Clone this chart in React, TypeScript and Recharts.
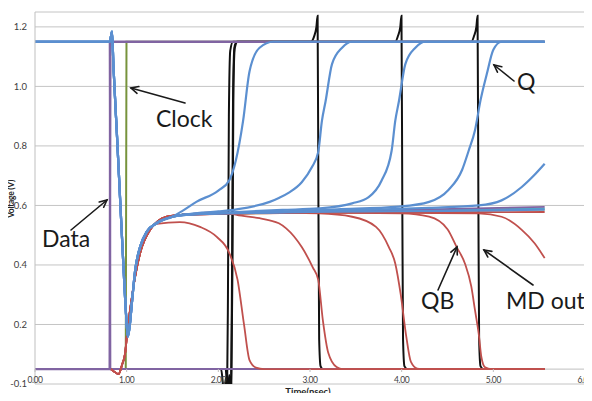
import React from "react"
import { ComposedChart, Line, XAxis, YAxis, CartesianGrid, ReferenceLine } from "recharts"

type Pt = [number, number]

// axis ticks
const xTicks = [0, 1, 2, 3, 4, 5, 6]
const yTicks = [0, 0.2, 0.4, 0.6, 0.8, 1.0, 1.2]

// inputs (time in nsec, voltage in V)
const dataWave: Pt[] = [[0, 1.15], [0.815, 1.15], [0.822, 0.05], [5.56, 0.05]]
const dataBarWave: Pt[] = [[0, 0.05], [0.815, 0.05], [0.822, 1.15], [5.56, 1.15]]
const clockWave: Pt[] = [[0, 0.05], [0.99, 0.05], [0.998, 1.15], [5.56, 1.15]]

// Q, common start of every run
const qHead: Pt[] = [
  [0, 1.15], [0.815, 1.15], [0.83, 1.17], [0.84, 1.184], [0.856, 1.066], [0.893, 0.843],
  [0.929, 0.618], [0.965, 0.394], [0.995, 0.226], [1.013, 0.159], [1.035, 0.2], [1.057, 0.272],
  [1.093, 0.383], [1.147, 0.461], [1.22, 0.512], [1.33, 0.541], [1.5, 0.562],
]
const q1Tail: Pt[] = [[1.6, 0.58], [1.76, 0.612], [2.0, 0.65], [2.12, 0.685], [2.19, 0.75], [2.27, 0.884], [2.34, 1.05], [2.45, 1.13], [2.6, 1.15], [5.56, 1.15]]
const q2Tail: Pt[] = [[1.7, 0.572], [2.0, 0.58], [2.2, 0.587], [2.56, 0.612], [2.66, 0.625], [2.77, 0.643], [2.91, 0.678], [3.02, 0.728], [3.09, 0.78], [3.13, 0.884], [3.17, 0.95], [3.24, 1.075], [3.35, 1.13], [3.46, 1.15], [5.56, 1.15]]
const q3Tail: Pt[] = [[1.7, 0.57], [2.2, 0.578], [2.7, 0.585], [3.1, 0.59], [3.46, 0.607], [3.64, 0.628], [3.78, 0.683], [3.89, 0.783], [3.93, 0.884], [3.97, 0.95], [4.04, 1.075], [4.15, 1.13], [4.26, 1.15], [5.56, 1.15]]
const q4Tail: Pt[] = [[1.7, 0.57], [2.5, 0.578], [3.3, 0.587], [3.97, 0.596], [4.3, 0.612], [4.51, 0.652], [4.66, 0.72], [4.73, 0.783], [4.8, 0.853], [4.86, 0.953], [4.93, 1.043], [5.0, 1.123], [5.09, 1.15], [5.56, 1.15]]
const q5Tail: Pt[] = [[1.7, 0.57], [2.6, 0.577], [3.6, 0.585], [4.3, 0.592], [4.84, 0.6], [5.09, 0.617], [5.31, 0.662], [5.45, 0.703], [5.56, 0.74]]
const q6Tail: Pt[] = [[1.7, 0.57], [3.0, 0.578], [4.5, 0.582], [5.56, 0.586]]

// QB, common start of every run
const qbHead: Pt[] = [
  [0, 0.05], [0.82, 0.05], [0.87, 0.04], [0.91, 0.033], [0.95, 0.065], [0.984, 0.105],
  [1.002, 0.159], [1.074, 0.327], [1.147, 0.44], [1.256, 0.518], [1.438, 0.562],
]
const qb1Tail: Pt[] = [[1.33, 0.538], [1.58, 0.544], [1.8, 0.528], [1.98, 0.495], [2.12, 0.44], [2.21, 0.35], [2.28, 0.2], [2.34, 0.08], [2.41, 0.055], [2.5, 0.05], [5.56, 0.05]]
const qb2Tail: Pt[] = [[1.6, 0.568], [2.05, 0.578], [2.2, 0.568], [2.45, 0.557], [2.56, 0.55], [2.66, 0.54], [2.74, 0.523], [2.91, 0.46], [3.03, 0.392], [3.09, 0.35], [3.14, 0.215], [3.2, 0.104], [3.29, 0.057], [3.36, 0.05], [5.56, 0.05]]
const qb3Tail: Pt[] = [[1.6, 0.568], [2.5, 0.576], [3.1, 0.573], [3.46, 0.562], [3.72, 0.528], [3.86, 0.46], [3.93, 0.405], [3.99, 0.3], [4.05, 0.16], [4.1, 0.075], [4.17, 0.052], [4.25, 0.05], [5.56, 0.05]]
const qb4Tail: Pt[] = [[1.6, 0.568], [3.0, 0.576], [4.0, 0.573], [4.3, 0.562], [4.5, 0.52], [4.6, 0.46], [4.69, 0.405], [4.76, 0.327], [4.8, 0.248], [4.84, 0.17], [4.87, 0.09], [4.91, 0.056], [4.98, 0.05], [5.56, 0.05]]
const qb5Tail: Pt[] = [[1.6, 0.568], [3.0, 0.577], [4.84, 0.573], [5.09, 0.562], [5.31, 0.518], [5.45, 0.473], [5.56, 0.423]]
const qb6Tail: Pt[] = [[1.6, 0.568], [3.0, 0.575], [5.56, 0.578]]

// other traces that sit on the metastable level
const metaPurple: Pt[] = [[1.6, 0.57], [3.5, 0.582], [5.56, 0.595]]
const metaTeal: Pt[] = [[1.6, 0.57], [3.5, 0.58], [5.56, 0.59]]
const metaGreen: Pt[] = [[1.6, 0.57], [3.5, 0.578], [5.56, 0.586]]

// MD out
const md1: Pt[] = [[0, 0.05], [2.03, 0.05], [2.05, 0.0], [2.065, -0.05], [2.08, 0.02], [2.095, -0.04], [2.105, 0.3], [2.115, 0.9], [2.13, 1.12], [2.16, 1.15], [3.01, 1.15], [3.045, 1.168], [3.07, 1.2], [3.083, 1.237], [3.092, 0.6], [3.1, 0.15], [3.115, 0.06], [3.14, 0.05], [5.56, 0.05]]
const md2: Pt[] = [[0, 0.05], [2.08, 0.05], [2.1, -0.03], [2.12, 0.03], [2.135, -0.05], [2.15, 0.4], [2.16, 0.95], [2.175, 1.13], [2.2, 1.15], [3.93, 1.15], [3.96, 1.17], [3.985, 1.2], [3.998, 1.237], [4.007, 0.6], [4.015, 0.15], [4.03, 0.06], [4.06, 0.05], [5.56, 0.05]]
const md3: Pt[] = [[0, 0.05], [2.09, 0.05], [2.11, -0.04], [2.125, 0.02], [2.14, -0.05], [2.155, 0.45], [2.165, 1.0], [2.18, 1.13], [2.21, 1.15], [4.76, 1.15], [4.79, 1.17], [4.815, 1.2], [4.828, 1.237], [4.837, 0.6], [4.845, 0.15], [4.86, 0.06], [4.89, 0.05], [5.56, 0.05]]

const BLUE = "#5b8fd0"
const RED = "#c0504d"
const PURPLE = "#8064a2"
const GREEN = "#77933c"
const TEAL = "#4bacc6"
const BLACK = "#111111"

const rows = (pts: Pt[]) => pts.map(([t, v]) => ({ t, v }))

// drawing order: first is at the bottom
const series = [
  { id: "md1", pts: md1, color: BLACK, w: 2, curve: "monotone" },
  { id: "md2", pts: md2, color: BLACK, w: 2, curve: "monotone" },
  { id: "md3", pts: md3, color: BLACK, w: 2, curve: "monotone" },
  { id: "clock", pts: clockWave, color: GREEN, w: 2, curve: "linear" },
  { id: "data", pts: dataWave, color: PURPLE, w: 2, curve: "linear" },
  { id: "mg", pts: metaGreen, color: "#9bbb59", w: 1.8, curve: "monotone" },
  { id: "mt", pts: metaTeal, color: TEAL, w: 1.8, curve: "monotone" },
  { id: "mp", pts: metaPurple, color: PURPLE, w: 1.8, curve: "monotone" },
  { id: "qb6", pts: [...qbHead, ...qb6Tail], color: RED, w: 1.8, curve: "monotone" },
  { id: "qb5", pts: [...qbHead, ...qb5Tail], color: RED, w: 1.8, curve: "monotone" },
  { id: "qb4", pts: [...qbHead, ...qb4Tail], color: RED, w: 1.8, curve: "monotone" },
  { id: "qb3", pts: [...qbHead, ...qb3Tail], color: RED, w: 1.8, curve: "monotone" },
  { id: "qb2", pts: [...qbHead, ...qb2Tail], color: RED, w: 1.8, curve: "monotone" },
  { id: "qb1", pts: [...qbHead.slice(0, -1), ...qb1Tail], color: RED, w: 1.8, curve: "monotone" },
  { id: "dataB", pts: dataBarWave, color: PURPLE, w: 2.4, curve: "linear" },
  { id: "q6", pts: [...qHead, ...q6Tail], color: BLUE, w: 2.2, curve: "monotone" },
  { id: "q5", pts: [...qHead, ...q5Tail], color: BLUE, w: 2.2, curve: "monotone" },
  { id: "q4", pts: [...qHead, ...q4Tail], color: BLUE, w: 2.2, curve: "monotone" },
  { id: "q3", pts: [...qHead, ...q3Tail], color: BLUE, w: 2.2, curve: "monotone" },
  { id: "q2", pts: [...qHead, ...q2Tail], color: BLUE, w: 2.2, curve: "monotone" },
  { id: "q1", pts: [...qHead, ...q1Tail], color: BLUE, w: 2.2, curve: "monotone" },
]

const FONT = "Lato, 'Liberation Sans', sans-serif"
const AXIS_Y = 369 // pixel row of the 0.05 V crossing line

function TimeTick(props: any) {
  const { x, payload } = props
  return (
    <g>
      <line x1={x} x2={x} y1={AXIS_Y} y2={AXIS_Y + 3} stroke="#bfbfbf" />
      <text x={x} y={383} textAnchor="middle" fontSize={8.5} letterSpacing={-0.4}
        fill="#404040" fontFamily={FONT}>
        {Number(payload.value).toFixed(2)}
      </text>
    </g>
  )
}

function Arrow({ x1, y1, x2, y2 }: { x1: number, y1: number, x2: number, y2: number }) {
  const a = Math.atan2(y2 - y1, x2 - x1)
  const len = 8
  const w1 = [x2 - len * Math.cos(a - 0.45), y2 - len * Math.sin(a - 0.45)]
  const w2 = [x2 - len * Math.cos(a + 0.45), y2 - len * Math.sin(a + 0.45)]
  return (
    <g stroke="#1a1a1a" strokeWidth={1.6} fill="none" strokeLinecap="round">
      <line x1={x1} y1={y1} x2={x2} y2={y2} />
      <polyline points={`${w1[0]},${w1[1]} ${x2},${y2} ${w2[0]},${w2[1]}`} />
    </g>
  )
}

export default function App() {
  return (
    <div style={{ margin: -8, width: 592, height: 401, position: "relative", background: "#fff", overflow: "hidden" }}>
      <div style={{ position: "absolute", left: 5, top: 0, width: 0, height: 399, borderLeft: "1px solid #d9d9d9" }} />
      <div style={{ position: "absolute", left: 5, top: 399, width: 587, height: 0, borderTop: "1px solid #d9d9d9" }} />
      <ComposedChart width={592} height={401} margin={{ top: 12, right: 7, bottom: 0, left: 0 }}
        style={{ position: "absolute", left: 0, top: 0, overflow: "visible" }}>
        <CartesianGrid vertical={false} stroke="#c4c4c4" />
        <XAxis type="number" dataKey="t" domain={[0, 6]} ticks={xTicks} interval={0}
          allowDataOverflow height={17} axisLine={false} tickLine={false} tick={<TimeTick />} />
        <YAxis type="number" domain={[0, 1.25]} ticks={yTicks} allowDataOverflow width={35}
          axisLine={{ stroke: "#bfbfbf" }} tickLine={false} tickSize={0} tickMargin={8}
          tick={{ fill: "#404040", fontSize: 9.5, fontFamily: FONT }}
          tickFormatter={(v: number) => (v === 0 ? "-0.1" : v.toFixed(1))} />
        <ReferenceLine segment={[{ x: 0, y: 0.05 }, { x: 6, y: 0.05 }]} stroke="#bfbfbf" />
        {series.map((s) => (
          <Line key={s.id} data={rows(s.pts)} dataKey="v" type={s.curve as any}
            stroke={s.color} strokeWidth={s.w} dot={false} activeDot={false}
            isAnimationActive={false} />
        ))}
      </ComposedChart>
      <svg width={592} height={401} style={{ position: "absolute", left: 0, top: 0, pointerEvents: "none" }}>
        <text x={308} y={395} textAnchor="middle" fontSize={9.5} fontWeight={700} fill="#262626"
          fontFamily={FONT}>Time(nsec)</text>
        <text transform="translate(14,199) rotate(-90)" textAnchor="middle" fontSize={8.5}
          fontWeight={700} fill="#262626" fontFamily={FONT} letterSpacing={-0.3}>Voltage (V)</text>
        <g fontFamily={FONT} fontSize={23} fill="#1a1a1a">
          <text x={156} y={127}>Clock</text>
          <text x={42} y={247}>Data</text>
          <text x={517} y={90}>Q</text>
          <text x={421} y={309}>QB</text>
          <text x={506} y={309}>MD out</text>
        </g>
        <Arrow x1={185} y1={103} x2={131} y2={88} />
        <Arrow x1={71} y1={230} x2={107} y2={200} />
        <Arrow x1={514} y1={81} x2={494} y2={65} />
        <Arrow x1={438} y1={290} x2={457} y2={247} />
        <Arrow x1={533} y1={285} x2={484} y2={250} />
      </svg>
    </div>
  )
}
